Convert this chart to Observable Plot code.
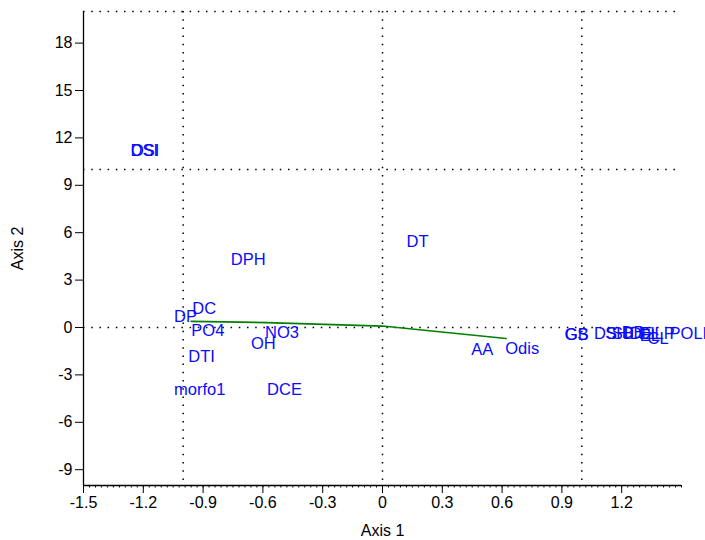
<!DOCTYPE html>
<html><head><meta charset="utf-8">
<script src="https://cdn.jsdelivr.net/npm/d3@7"></script>
<script src="https://cdn.jsdelivr.net/npm/@observablehq/plot@0.6"></script>
<style>body{margin:0;background:#fff}</style>
</head><body><div id="chart"></div>
<script>
// Variable labels (left edge x, vertical centre y)
const labelNames = ["OSI","DSI","DPH","DT","DC","DP","PO4","NO3","OH","DTI","morfo1","DCE","AA","Odis",
                    "GS","GB","DS","SH","SB","DB","DE","DL","EL","CL","LP","POLI"];
const labelX = [-1.262,-1.264,-0.761,0.121,-0.954,-1.046,-0.959,-0.589,-0.660,-0.974,-1.046,-0.579,0.445,0.616,
                0.913,0.915,1.061,1.118,1.150,1.200,1.240,1.285,1.290,1.330,1.365,1.440];
const labelY = [11.2,11.2,4.26,5.41,1.21,0.68,-0.20,-0.35,-1.00,-1.82,-3.95,-3.92,-1.38,-1.35,
                -0.48,-0.48,-0.38,-0.38,-0.40,-0.36,-0.42,-0.38,-0.55,-0.72,-0.38,-0.38];
// Green line
const lineX = [-0.96, -0.58, 0.0, 0.62];
const lineY = [0.39, 0.31, 0.09, -0.70];
// Reference lines
const hDotted = [0, 10, 20];
const vDotted = [-1, 0, 1];
const xTicks = [-1.5,-1.2,-0.9,-0.6,-0.3,0,0.3,0.6,0.9,1.2];
const yTicks = [-9,-6,-3,0,3,6,9,12,15,18];
const xMinor = d3.range(0, 101).map(i => Math.round((-1.5 + i * 0.03) * 1000) / 1000);
const xDomain = [-1.5, 1.5];
const yDomain = [-10, 20];

const labels = labelNames.map((name, i) => ({name, x: labelX[i], y: labelY[i]}));
const line = lineX.map((x, i) => ({x, y: lineY[i]}));
const dots = "1.5 6.7";

const chart = Plot.plot({
  width: 705, height: 540,
  marginLeft: 83, marginRight: 24, marginTop: 11, marginBottom: 55,
  style: {fontFamily: "'Liberation Sans', Arial, sans-serif", background: "#fff", color: "#000"},
  x: {domain: xDomain},
  y: {domain: yDomain},
  marks: [
    Plot.ruleY(hDotted, {stroke: "#000", strokeWidth: 1.5, strokeDasharray: dots}),
    Plot.ruleX(vDotted, {stroke: "#000", strokeWidth: 1.5, strokeDasharray: dots}),
    Plot.ruleX([xDomain[0]], {stroke: "#000", strokeWidth: 1.3}),
    Plot.ruleY([yDomain[0]], {stroke: "#000", strokeWidth: 1.3}),
    Plot.axisX(xMinor, {tickSize: 2.5, text: null, label: null, stroke: "#000"}),
    Plot.axisX(xTicks, {tickSize: 8, tickPadding: 3, fontSize: 16, tickFormat: d => String(d),
      label: "Axis 1", labelAnchor: "center", labelOffset: 50, labelArrow: "none", stroke: "#000"}),
    Plot.axisY(yTicks, {tickSize: 8, tickPadding: 3, fontSize: 16, tickFormat: d => String(d),
      label: "Axis 2", labelAnchor: "center", labelOffset: 72, labelArrow: "none", stroke: "#000"}),
    Plot.line(line, {x: "x", y: "y", stroke: "#008000", strokeWidth: 1.6}),
    Plot.text(labels, {x: "x", y: "y", text: "name", textAnchor: "start", lineAnchor: "middle",
      fill: "#0a0aff", fontSize: 16.5})
  ]
});
document.getElementById("chart").appendChild(chart);
</script>
</body></html>
